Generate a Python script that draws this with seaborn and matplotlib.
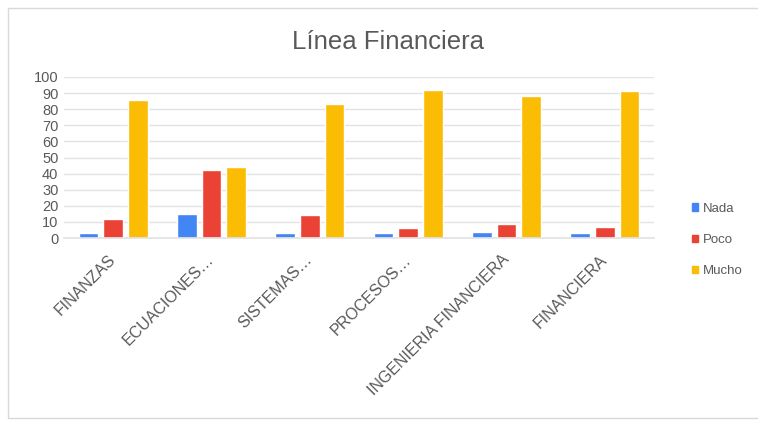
import matplotlib
matplotlib.use("Agg")
import matplotlib.pyplot as plt
import matplotlib.transforms as mtransforms
import seaborn as sns
import pandas as pd
from matplotlib.patches import Rectangle

categories = ["FINANZAS", "ECUACIONES…", "SISTEMAS…", "PROCESOS…",
              "INGENIERIA FINANCIERA", "FINANCIERA"]
series = ["Nada", "Poco", "Mucho"]
nada = [3, 15, 3, 3, 4, 3]
poco = [12, 42, 14, 6, 9, 7]
mucho = [86, 44, 83, 92, 88, 91]
y_ticks = list(range(0, 101, 10))
colors = ["#4285F4", "#EA4335", "#FBBC04"]

df = pd.DataFrame({
    "categoria": categories * 3,
    "serie": [s for s in series for _ in categories],
    "valor": nada + poco + mucho,
})

sns.set_theme(style="white")
plt.rcParams["font.family"] = ["Liberation Sans", "DejaVu Sans"]

fig = plt.figure(figsize=(7.58, 4.21), dpi=100)
ax = fig.add_axes([64 / 758, 1 - 238 / 421, 590 / 758, 161 / 421])

sns.barplot(data=df, x="categoria", y="valor", hue="serie",
            order=categories, hue_order=series, palette=colors,
            width=0.75, gap=0.2, ax=ax, legend=False, saturation=1)

ax.set_ylim(0, 100)
ax.set_xlim(-0.5, len(categories) - 0.5)
ax.set_yticks(y_ticks)
ax.yaxis.grid(True, color="#E3E3E3", linewidth=1)
ax.set_axisbelow(True)
for s in ["top", "right", "left"]:
    ax.spines[s].set_visible(False)
ax.spines["bottom"].set_color("#E3E3E3")
ax.set_xlabel("")
ax.set_ylabel("")
ax.tick_params(axis="y", labelsize=10.5, labelcolor="#595959", length=0, pad=4)
ax.tick_params(axis="x", labelsize=11.5, labelcolor="#595959", length=0, pad=10)
shift = mtransforms.ScaledTranslation(-5 / 100, 0, fig.dpi_scale_trans)
for lbl in ax.get_xticklabels():
    lbl.set_rotation(45)
    lbl.set_ha("right")
    lbl.set_rotation_mode("anchor")
    lbl.set_transform(lbl.get_transform() + shift)

fig.text(388 / 758, 1 - 42 / 421, "Línea Financiera", ha="center", va="center",
         fontsize=18.5, color="#595959")

handles = [Rectangle((0, 0), 1, 1, color=c) for c in colors]
fig.legend(handles, series, loc="center left", bbox_to_anchor=(680 / 758, 1 - 240 / 421),
           frameon=False, fontsize=9.5, labelcolor="#595959", handlelength=0.5,
           handleheight=0.5, handletextpad=0.3, labelspacing=1.45)

fig.add_artist(Rectangle((8 / 758, 3 / 421), 760 / 758, 410 / 421, transform=fig.transFigure,
                         fill=False, edgecolor="#D9D9D9", linewidth=1))

fig.savefig("out.png", dpi=100, facecolor="white")
